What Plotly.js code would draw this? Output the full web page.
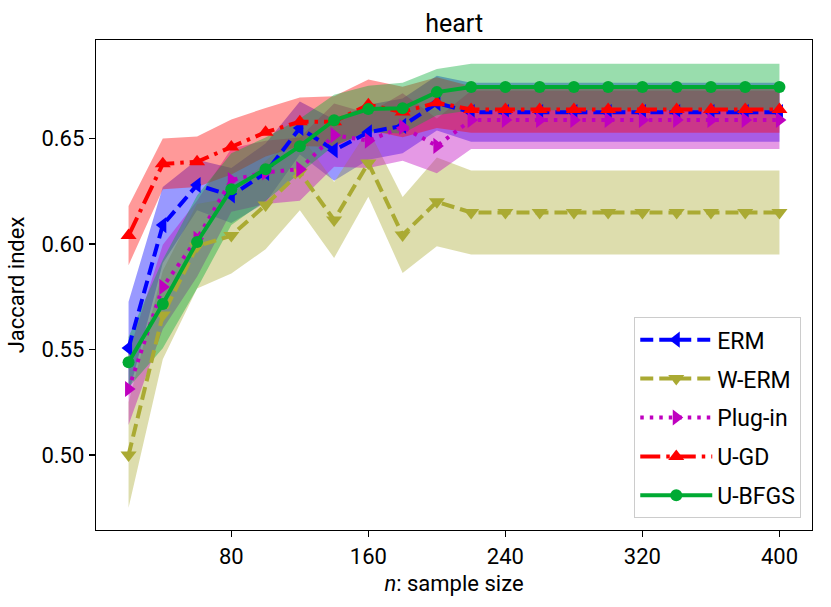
<!DOCTYPE html>
<html>
<head>
<meta charset="utf-8">
<script src="https://cdn.plot.ly/plotly-3.0.1.min.js"></script>
<style>html,body{margin:0;padding:0;background:#fff;}#chart{width:831px;height:607px;}</style>
</head>
<body>
<div id="chart"></div>
<script>
// sample sizes (x)
const sampleSizes = [20,40,60,80,100,120,140,160,180,200,220,240,260,280,300,320,340,360,380,400];
// mean Jaccard index per method
const ermMean    = [0.5507,0.609,0.628,0.623,0.6337,0.655,0.6445,0.653,0.656,0.6668,0.6625,0.6625,0.6625,0.6625,0.6625,0.6625,0.6625,0.6625,0.6625,0.6625];
const wermMean   = [0.500,0.5664,0.599,0.604,0.6185,0.634,0.6114,0.6384,0.6043,0.620,0.615,0.615,0.615,0.615,0.615,0.615,0.615,0.615,0.615,0.615];
const pluginMean = [0.5313,0.5797,0.6025,0.6303,0.634,0.6355,0.6516,0.649,0.6555,0.6465,0.6588,0.6588,0.6588,0.6588,0.6588,0.6588,0.6588,0.6588,0.6588,0.6588];
const ugdMean    = [0.604,0.638,0.639,0.646,0.653,0.658,0.658,0.666,0.6626,0.667,0.6638,0.6638,0.6638,0.6638,0.6638,0.6638,0.6638,0.6638,0.6638,0.6638];
const ubfgsMean  = [0.544,0.5716,0.601,0.626,0.6355,0.6464,0.6587,0.664,0.6644,0.672,0.6744,0.6744,0.6744,0.6744,0.6744,0.6744,0.6744,0.6744,0.6744,0.6744];
// half-width of shaded band per method
const ermErr    = [0.022,0.018,0.012,0.013,0.014,0.0125,0.0145,0.013,0.013,0.013,0.014,0.014,0.014,0.014,0.014,0.014,0.014,0.014,0.014,0.014];
const wermErr   = [0.025,0.021,0.020,0.018,0.021,0.018,0.018,0.016,0.018,0.021,0.0199,0.0199,0.0199,0.0199,0.0199,0.0199,0.0199,0.0199,0.0199,0.0199];
const pluginErr = [0.017,0.020,0.018,0.015,0.015,0.015,0.015,0.013,0.016,0.013,0.0138,0.0138,0.0138,0.0138,0.0138,0.0138,0.0138,0.0138,0.0138,0.0138];
const ugdErr    = [0.014,0.012,0.012,0.013,0.0115,0.0115,0.012,0.012,0.012,0.012,0.011,0.011,0.011,0.011,0.011,0.011,0.011,0.011,0.011,0.011];
const ubfgsErr  = [0.012,0.021,0.022,0.017,0.015,0.013,0.012,0.011,0.012,0.011,0.011,0.011,0.011,0.011,0.011,0.011,0.011,0.011,0.011,0.011];
// labels
const methodNames = ["ERM","W-ERM","Plug-in","U-GD","U-BFGS"];
const xTicks = [80,160,240,320,400];
const yTicks = [0.50,0.55,0.60,0.65];

const FONT = "Roboto, 'Liberation Sans', sans-serif";
const styles = [
  {color:"rgb(0,0,255)",   rgb:"0,0,255",   dash:"13px,6px",           symbol:"triangle-left"},
  {color:"rgb(170,170,51)",rgb:"170,170,51",dash:"13px,6px",           symbol:"triangle-down"},
  {color:"rgb(191,0,191)", rgb:"191,0,191", dash:"3.5px,6px",          symbol:"triangle-right"},
  {color:"rgb(255,0,0)",   rgb:"255,0,0",   dash:"20px,6px,3.5px,6px", symbol:"triangle-up"},
  {color:"rgb(0,170,51)",  rgb:"0,170,51",  dash:"solid",              symbol:"circle"}
];
const means = [ermMean,wermMean,pluginMean,ugdMean,ubfgsMean];
const errs = [ermErr,wermErr,pluginErr,ugdErr,ubfgsErr];

const traces = [];
// bands first
means.forEach((m,i)=>{
  const lo = m.map((v,k)=>v-errs[i][k]);
  const hi = m.map((v,k)=>v+errs[i][k]);
  traces.push({x:sampleSizes,y:lo,type:"scatter",mode:"lines",line:{width:0,color:"rgba(0,0,0,0)"},showlegend:false,hoverinfo:"skip"});
  traces.push({x:sampleSizes,y:hi,type:"scatter",mode:"lines",line:{width:0,color:"rgba(0,0,0,0)"},fill:"tonexty",fillcolor:"rgba("+styles[i].rgb+",0.4)",showlegend:false,hoverinfo:"skip"});
});
// lines
means.forEach((m,i)=>{
  traces.push({x:sampleSizes,y:m,type:"scatter",mode:"lines+markers",name:methodNames[i],legendgroup:"g"+i,
    line:{color:styles[i].color,width:4,dash:styles[i].dash},
    marker:{color:styles[i].color,symbol:styles[i].symbol,size:i===4?12:14,line:{width:0}},
    hoverinfo:"skip"});
});

const layout = {
  width:831,height:607,
  margin:{l:96,r:19,t:40,b:77},
  paper_bgcolor:"#fff",plot_bgcolor:"#fff",
  font:{family:FONT,size:22,color:"#000"},
  title:{text:"heart",font:{family:FONT,size:25,color:"#000"},x:0.5465,xanchor:"center",y:0.962,yanchor:"middle"},
  showlegend:true,
  legend:{x:0.985,xanchor:"right",y:0.024,yanchor:"bottom",bgcolor:"rgba(255,255,255,0.8)",bordercolor:"#cccccc",borderwidth:1,
    font:{family:FONT,size:23,color:"#000"},itemwidth:72,traceorder:"grouped",tracegroupgap:6},
  xaxis:{range:[1,419],tickvals:xTicks,ticktext:xTicks.map(String),ticks:"outside",ticklen:6,tickwidth:1.2,tickcolor:"#000",
    showline:true,linecolor:"#000",linewidth:1.3,mirror:true,showgrid:false,zeroline:false,
    title:{text:"<i>n</i>: sample size",font:{family:FONT,size:22,color:"#000"},standoff:8},tickfont:{family:FONT,size:22}},
  yaxis:{range:[0.4645,0.6967],tickvals:yTicks,ticktext:yTicks.map(v=>v.toFixed(2)),ticks:"outside",ticklen:6,tickwidth:1.2,tickcolor:"#000",
    showline:true,linecolor:"#000",linewidth:1.3,mirror:true,showgrid:false,zeroline:false,
    title:{text:"Jaccard index",font:{family:FONT,size:22,color:"#000"},standoff:10},tickfont:{family:FONT,size:22}}
};
Plotly.newPlot("chart",traces,layout,{staticPlot:true,displayModeBar:false});
</script>
</body>
</html>
